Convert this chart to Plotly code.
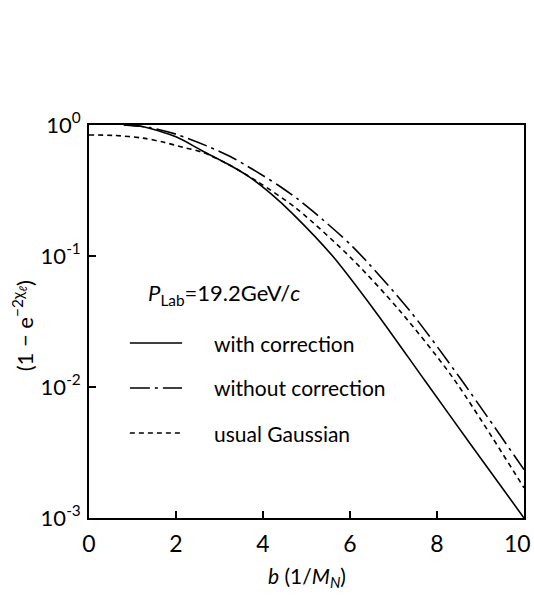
import plotly.graph_objects as go

# Impact parameter b (in units of 1/M_N) and profile values (1 - exp(-2 chi))
b_with = [0.8, 1.2, 2.0, 2.62, 3.2, 3.7, 4.2, 4.69, 5.6, 6.62, 7.72, 8.8, 10.0]
v_with = [1.0, 0.977, 0.813, 0.631, 0.501, 0.398, 0.295, 0.209, 0.100, 0.0363, 0.0112, 0.00355, 0.001]

b_without = [0.8, 1.4, 2.0, 2.71, 3.3, 3.77, 4.35, 4.78, 5.15, 6.07, 7.38, 8.53, 10.0]
v_without = [1.0, 0.955, 0.851, 0.692, 0.562, 0.457, 0.347, 0.275, 0.219, 0.117, 0.0380, 0.0117, 0.00234]

b_gauss = [0.0, 0.6, 1.24, 1.7, 2.16, 2.62, 3.2, 3.86, 4.78, 6.07, 7.15, 8.37, 10.0]
v_gauss = [0.839, 0.832, 0.794, 0.741, 0.676, 0.617, 0.501, 0.372, 0.229, 0.0933, 0.0380, 0.0117, 0.0017]

x_ticks = [0, 2, 4, 6, 8, 10]
x_ticktext = ["0", "2", "4", "6", "8", "10"]
y_ticks = [1, 0.1, 0.01, 0.001]
y_ticktext = ["10<sup>0</sup>", "10<sup>-1</sup>", "10<sup>-2</sup>", "10<sup>-3</sup>"]

legend_names = ["with correction", "without correction", "usual Gaussian"]
header = "<i>P</i><sub>Lab</sub>=19.2GeV/<i>c</i>"

FONT = "Lato"
DASHDOT = "20px,5px,3px,5px"
DOTTED = "5px,4px"

fig = go.Figure()
fig.add_trace(go.Scatter(x=b_with, y=v_with, mode="lines",
                         line=dict(color="black", width=1.6, shape="spline", smoothing=0.8),
                         showlegend=False))
fig.add_trace(go.Scatter(x=b_without, y=v_without, mode="lines",
                         line=dict(color="black", width=1.6, dash=DASHDOT, shape="spline", smoothing=0.8),
                         showlegend=False))
fig.add_trace(go.Scatter(x=b_gauss, y=v_gauss, mode="lines",
                         line=dict(color="black", width=1.6, dash=DOTTED, shape="spline", smoothing=0.8),
                         showlegend=False))

# Hand-drawn style legend inside the frame
key_rows = [0.445, 0.331, 0.216]
key_dash = ["solid", DASHDOT, DOTTED]
for yrow, dash, name in zip(key_rows, key_dash, legend_names):
    fig.add_shape(type="line", xref="paper", yref="paper",
                  x0=0.094, x1=0.214, y0=yrow, y1=yrow,
                  line=dict(color="black", width=1.5, dash=dash))
    fig.add_annotation(xref="paper", yref="paper", x=0.283, y=yrow, text=name,
                       showarrow=False, xanchor="left", yanchor="middle",
                       font=dict(family=FONT, size=21, color="black"))

fig.add_annotation(xref="paper", yref="paper", x=0.13, y=0.57, text=header,
                   showarrow=False, xanchor="left", yanchor="middle",
                   font=dict(family=FONT, size=22, color="black"))

# The last x tick label sits at the figure edge; pull it inward so it stays whole
fig.add_annotation(xref="x", yref="paper", x=x_ticks[-1], y=-0.064,
                   text=x_ticktext[-1], showarrow=False, xanchor="right",
                   yanchor="middle", xshift=9,
                   font=dict(family=FONT, size=23, color="black"))

# Axis titles
fig.add_annotation(xref="paper", yref="paper", x=0.5, y=-0.15,
                   text="<i>b</i> (1/<i>M<sub>N</sub></i>)", showarrow=False,
                   xanchor="center", yanchor="middle",
                   font=dict(family=FONT, size=21, color="black"))
fig.add_annotation(xref="paper", yref="paper", x=-0.152, y=0.49,
                   text="(1 − e<sup>−2χ<sub>ℓ</sub></sup>)", showarrow=False,
                   textangle=-90, xanchor="center", yanchor="middle",
                   font=dict(family=FONT, size=22, color="black"))

fig.update_xaxes(range=[0, 10], tickvals=x_ticks,
                 ticktext=x_ticktext[:-1] + [""],
                 ticks="inside", ticklen=7,
                 tickwidth=1.5, tickcolor="black", showline=True, linecolor="black",
                 linewidth=1.6, mirror=True, showgrid=False, zeroline=False,
                 ticklabelstandoff=5, automargin=False,
                 tickfont=dict(family=FONT, size=23, color="black"))
fig.update_yaxes(type="log", range=[-3, 0], tickvals=y_ticks, ticktext=y_ticktext,
                 ticks="inside", ticklen=7, tickwidth=1.5, tickcolor="black",
                 showline=True, linecolor="black", linewidth=1.6, mirror=True,
                 showgrid=False, zeroline=False, ticklabelstandoff=2, automargin=False,
                 tickfont=dict(family=FONT, size=22, color="black"))

fig.update_layout(width=534, height=597,
                  margin=dict(l=89, r=10, t=125, b=79),
                  paper_bgcolor="white", plot_bgcolor="white",
                  font=dict(family=FONT, color="black"))

fig.write_html("out.html")
